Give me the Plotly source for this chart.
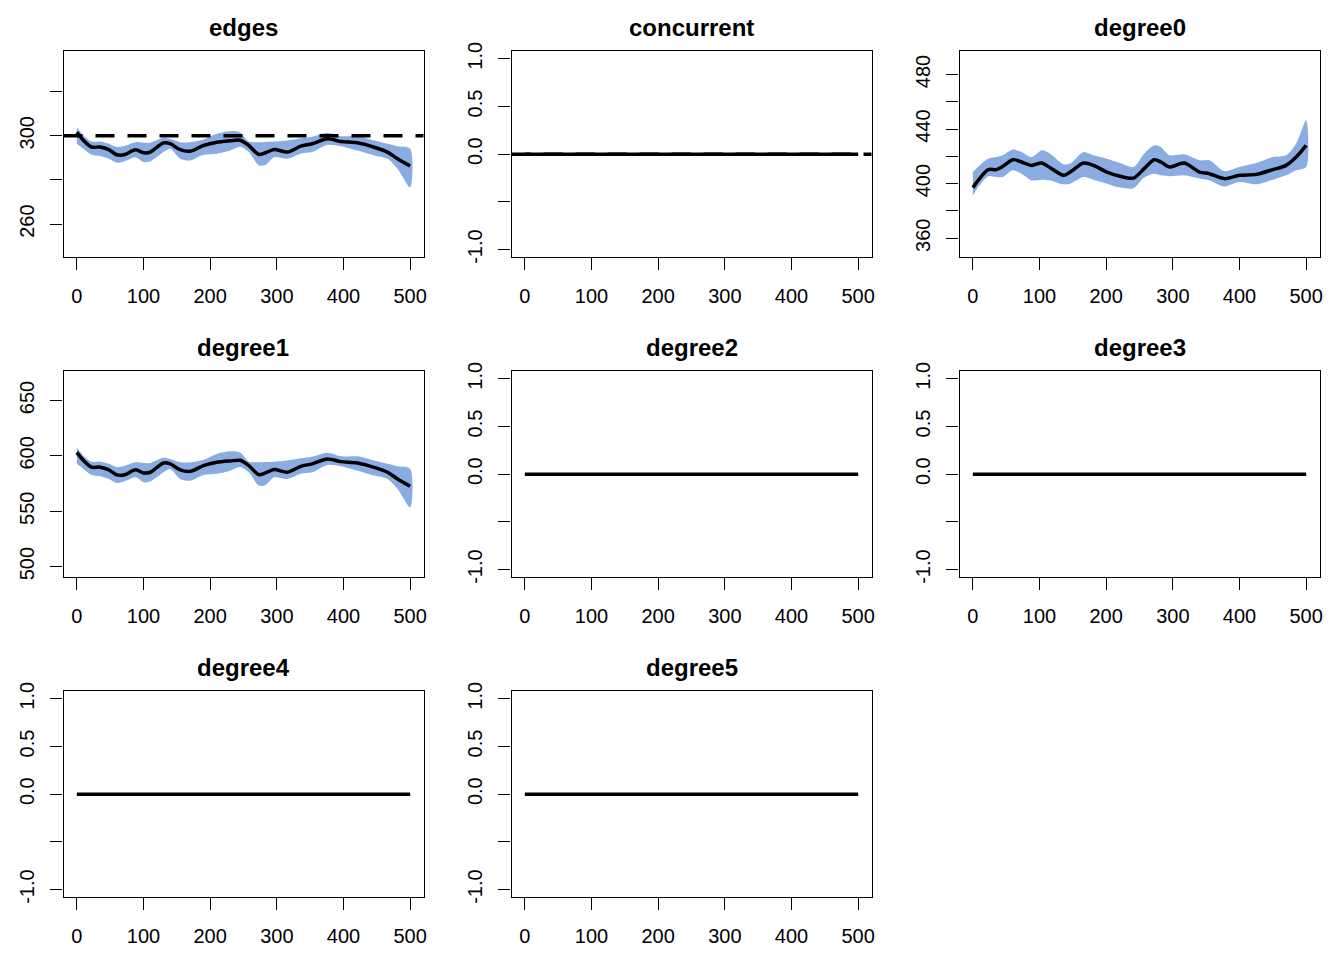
import plotly.graph_objects as go

# ---------------- data ----------------
panel_names = ["edges", "concurrent", "degree0", "degree1",
               "degree2", "degree3", "degree4", "degree5"]

x_ticks = [0, 100, 200, 300, 400, 500]

# edges
edges_x = [0, 10, 22, 35, 48, 60, 72, 88, 100, 110, 130, 140, 155, 170, 190, 210, 230,
           245, 258, 273, 283, 296, 316, 336, 353, 376, 396, 421, 446, 466, 481, 500]
edges_mean = [301.6, 297.9, 294.9, 294.9, 293.7, 291.4, 291.5, 293.7, 292.3, 292.6, 296.8,
              296.4, 293.7, 293.0, 295.6, 297.1, 297.7, 298.0, 295.6, 291.5, 292.3, 293.8,
              292.6, 295.3, 296.4, 298.6, 297.4, 296.8, 294.8, 292.6, 289.6, 286.3]
edges_upper = [303.9, 300.1, 297.4, 297.4, 296.4, 294.9, 295.5, 297.1, 296.8, 296.8, 299.1,
               298.6, 297.1, 297.1, 298.3, 300.9, 302.1, 301.5, 297.4, 297.1, 297.2, 297.4,
               297.9, 298.9, 299.6, 301.4, 299.8, 299.8, 297.9, 296.4, 295.3, 294.1]
edges_lower = [296.4, 294.1, 291.4, 290.8, 289.6, 287.8, 288.5, 290.3, 288.1, 288.4, 292.6,
               294.1, 289.6, 288.8, 291.4, 291.9, 293.3, 295.0, 292.6, 286.6, 286.9, 290.3,
               289.6, 291.9, 292.6, 295.9, 295.3, 293.3, 291.1, 289.6, 285.1, 276.7]
edges_target = 300

# degree1
degree1_x = edges_x
degree1_mean = [603.2, 595.8, 589.8, 589.8, 587.4, 582.8, 583.0, 587.4, 584.6, 585.2, 593.6,
                592.8, 587.4, 586.0, 591.2, 594.2, 595.4, 596.0, 591.2, 583.0, 584.6, 587.6,
                585.2, 590.6, 592.8, 597.2, 594.8, 593.6, 589.6, 585.2, 579.2, 572.6]
degree1_upper = [607.8, 600.2, 594.8, 594.8, 592.8, 589.8, 591.0, 594.2, 593.6, 593.6, 598.2,
                 597.2, 594.2, 594.2, 596.6, 601.8, 604.2, 603.0, 594.8, 594.2, 594.4, 594.8,
                 595.8, 597.8, 599.2, 602.8, 599.6, 599.6, 595.8, 592.8, 590.6, 588.2]
degree1_lower = [592.8, 588.2, 582.8, 581.6, 579.2, 575.6, 577.0, 580.6, 576.2, 576.8, 585.2,
                 588.2, 579.2, 577.6, 582.8, 583.8, 586.6, 590.0, 585.2, 573.2, 573.8, 580.6,
                 579.2, 583.8, 585.2, 591.8, 590.6, 586.6, 582.2, 579.2, 570.2, 553.4]

# degree0
degree0_x = [0, 10, 23, 35, 45, 60, 73, 88, 103, 116, 136, 146, 166, 181, 201, 221, 241,
             257, 272, 282, 295, 317, 340, 355, 377, 400, 425, 450, 470, 485, 500]
degree0_mean = [397.1, 403.7, 410.3, 410.3, 412.7, 417.6, 415.9, 413.4, 415.1, 411.7, 406.1,
                408.5, 415.1, 413.4, 408.5, 405.4, 404.1, 411.0, 417.6, 415.9, 412.2, 415.1,
                408.5, 407.3, 403.7, 406.1, 406.8, 410.3, 413.4, 419.5, 428.1]
degree0_upper = [408.5, 413.4, 418.3, 419.5, 420.8, 425.0, 423.2, 419.5, 424.4, 422.0, 414.2,
                 414.7, 423.2, 420.8, 418.3, 415.1, 412.2, 422.0, 428.1, 426.9, 420.8, 421.5,
                 417.1, 417.1, 409.2, 412.2, 415.1, 419.5, 420.8, 429.4, 446.5]
degree0_lower = [391.4, 398.8, 405.4, 404.9, 404.9, 409.8, 407.3, 402.4, 402.9, 402.4, 399.5,
                 400.0, 404.9, 402.9, 400.0, 397.1, 396.6, 404.5, 407.3, 406.1, 405.4, 406.1,
                 403.7, 402.4, 398.0, 401.2, 399.5, 402.9, 406.1, 409.8, 412.2]

# constant-zero statistics
zero_x = [0, 100, 200, 300, 400, 500]
zero_vals = [0, 0, 0, 0, 0, 0]
concurrent_target = 0

# y-axis settings per panel
edges_yticks = [260, 280, 300, 320]
edges_yticktext = ["260", "", "300", ""]
degree0_yticks = [360, 380, 400, 420, 440, 460, 480]
degree0_yticktext = ["360", "", "400", "", "440", "", "480"]
degree1_yticks = [500, 550, 600, 650]
degree1_yticktext = ["500", "550", "600", "650"]
zero_yticks = [-1.0, -0.5, 0.0, 0.5, 1.0]
zero_yticktext = ["-1.0", "", "0.0", "0.5", "1.0"]

# ---------------- layout geometry ----------------
W, H = 1344, 960
PAGE_OFFSET = 7.5          # the page body margin shifts the figure
col_left = [63 - PAGE_OFFSET, 511 - PAGE_OFFSET, 959 - PAGE_OFFSET]
row_top = [50.7 - PAGE_OFFSET, 370.7 - PAGE_OFFSET, 690.7 - PAGE_OFFSET]
box_w, box_h = 360, 206
XRANGE = [-20, 520]

BAND = "#89ACE2"
FONT = "Liberation Sans"

fig = go.Figure()

panels = [
    dict(name="edges", x=edges_x, mean=edges_mean, up=edges_upper, lo=edges_lower,
         target=edges_target, yr=[245.0, 338.3], tv=edges_yticks, tt=edges_yticktext),
    dict(name="concurrent", x=zero_x, mean=zero_vals, up=None, lo=None,
         target=concurrent_target, yr=[-1.08, 1.08], tv=zero_yticks, tt=zero_yticktext),
    dict(name="degree0", x=degree0_x, mean=degree0_mean, up=degree0_upper, lo=degree0_lower,
         target=None, yr=[346.1, 497.1], tv=degree0_yticks, tt=degree0_yticktext),
    dict(name="degree1", x=degree1_x, mean=degree1_mean, up=degree1_upper, lo=degree1_lower,
         target=None, yr=[490.4, 676.5], tv=degree1_yticks, tt=degree1_yticktext),
    dict(name="degree2", x=zero_x, mean=zero_vals, up=None, lo=None,
         target=None, yr=[-1.08, 1.08], tv=zero_yticks, tt=zero_yticktext),
    dict(name="degree3", x=zero_x, mean=zero_vals, up=None, lo=None,
         target=None, yr=[-1.08, 1.08], tv=zero_yticks, tt=zero_yticktext),
    dict(name="degree4", x=zero_x, mean=zero_vals, up=None, lo=None,
         target=None, yr=[-1.08, 1.08], tv=zero_yticks, tt=zero_yticktext),
    dict(name="degree5", x=zero_x, mean=zero_vals, up=None, lo=None,
         target=None, yr=[-1.08, 1.08], tv=zero_yticks, tt=zero_yticktext),
]

annotations = []
shapes = []
layout_axes = {}

for i, p in enumerate(panels):
    r, c = divmod(i, 3)
    idx = "" if i == 0 else str(i + 1)
    xa, ya = "x" + idx, "y" + idx
    x0 = col_left[c] / W
    x1 = (col_left[c] + box_w) / W
    y1 = 1 - row_top[r] / H
    y0 = 1 - (row_top[r] + box_h) / H

    if p["up"] is not None:
        fig.add_trace(go.Scatter(
            x=list(p["x"]) + list(p["x"])[::-1],
            y=list(p["up"]) + list(p["lo"])[::-1],
            fill="toself", fillcolor=BAND, mode="lines",
            line=dict(width=0, color=BAND, shape="spline", smoothing=0.8),
            xaxis=xa, yaxis=ya, hoverinfo="skip", showlegend=False))
    fig.add_trace(go.Scatter(
        x=p["x"], y=p["mean"], mode="lines",
        line=dict(color="black", width=3.5, shape="spline", smoothing=0.8),
        xaxis=xa, yaxis=ya, hoverinfo="skip", showlegend=False))
    if p["target"] is not None:
        shapes.append(dict(type="line", xref=xa + " domain", yref=ya,
                           x0=0, x1=1, y0=p["target"], y1=p["target"],
                           line=dict(color="black", width=3.5, dash="19px,13px"),
                           layer="above"))

    common = dict(showline=True, mirror=True, linecolor="black", linewidth=1.3,
                  ticks="outside", ticklen=12, tickwidth=1.3, tickcolor="black",
                  showgrid=False, zeroline=False, automargin=False,
                  tickfont=dict(family=FONT, size=20, color="black"))
    layout_axes["xaxis" + idx] = dict(domain=[x0, x1], range=XRANGE, anchor=ya,
                                      tickvals=x_ticks, ticktext=[str(v) for v in x_ticks],
                                      ticklabelstandoff=9, **common)
    layout_axes["yaxis" + idx] = dict(domain=[y0, y1], range=p["yr"], anchor=xa,
                                      tickvals=p["tv"], ticktext=p["tt"], tickangle=-90,
                                      ticklabelstandoff=8, **common)
    annotations.append(dict(text="<b>" + p["name"] + "</b>", xref="paper", yref="paper",
                            x=(x0 + x1) / 2, y=1 - (row_top[r] - 23.5) / H,
                            xanchor="center", yanchor="middle", showarrow=False,
                            font=dict(family=FONT, size=24, color="black")))

fig.update_layout(width=W, height=H, margin=dict(l=0, r=0, t=0, b=0, autoexpand=False),
                  paper_bgcolor="white", plot_bgcolor="white",
                  showlegend=False, annotations=annotations, shapes=shapes,
                  **layout_axes)

fig.write_html("out.html")
